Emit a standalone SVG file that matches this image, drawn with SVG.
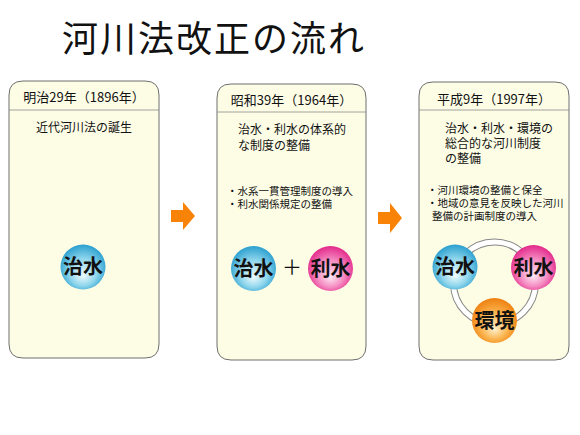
<svg xmlns="http://www.w3.org/2000/svg" width="580" height="435" viewBox="0 0 580 435">
  <defs>
    <radialGradient id="gBlue" cx="50%" cy="55%" r="55%" fx="50%" fy="70%">
      <stop offset="0" stop-color="#eefafd"/>
      <stop offset="0.55" stop-color="#8fd6ec"/>
      <stop offset="1" stop-color="#2a9fcf"/>
    </radialGradient>
    <radialGradient id="gPink" cx="50%" cy="55%" r="55%" fx="50%" fy="70%">
      <stop offset="0" stop-color="#fde6f2"/>
      <stop offset="0.55" stop-color="#f58cc2"/>
      <stop offset="1" stop-color="#e3288a"/>
    </radialGradient>
    <radialGradient id="gOrange" cx="50%" cy="55%" r="55%" fx="50%" fy="70%">
      <stop offset="0" stop-color="#fff0cc"/>
      <stop offset="0.55" stop-color="#fbb44e"/>
      <stop offset="1" stop-color="#ee8010"/>
    </radialGradient>
  </defs>
  <style>
    text { font-family: "Noto Sans CJK JP", "Noto Sans", sans-serif; fill: #111; }
    .panel { fill: #fdfde6; stroke: #6e6e6e; stroke-width: 1; }
    .sep { stroke: #8a8a8a; stroke-width: 0.8; }
    .head { font-size: 13px; text-anchor: middle; }
    .body { font-size: 12px; }
    .bul { font-size: 10.5px; }
    .lbl { font-size: 20px; text-anchor: middle; font-weight: bold; }
    .arrow { fill: #f98307; }
  </style>
  <rect width="580" height="435" fill="#ffffff"/>

  <text id="title" x="62" y="52" font-size="36" letter-spacing="2">河川法改正の流れ</text>

  <g id="panel1">
    <path class="panel" d="M9,95 Q9,81 23,81 L145,81 Q159,81 159,95 L159,344 Q159,358 145,358 L23,358 Q9,358 9,344 Z"/>
    <line class="sep" x1="9" y1="110" x2="159" y2="110"/>
    <text class="head" x="84" y="102">明治29年（1896年）</text>
    <text class="body" x="84" y="132" text-anchor="middle">近代河川法の誕生</text>
    <g id="p1-chisui">
      <circle cx="83" cy="267" r="22.5" fill="url(#gBlue)"/>
      <text class="lbl" x="83" y="274">治水</text>
    </g>
  </g>

  <g id="panel2">
    <path class="panel" d="M217,98 Q217,84 231,84 L352,84 Q366,84 366,98 L366,346 Q366,360 352,360 L231,360 Q217,360 217,346 Z"/>
    <line class="sep" x1="217" y1="112" x2="366" y2="112"/>
    <text class="head" x="291.5" y="105">昭和39年（1964年）</text>
    <text class="body" x="238" y="134">治水・利水の体系的<tspan x="238" y="150">な制度の整備</tspan></text>
    <text class="bul" x="227" y="195">・水系一貫管理制度の導入<tspan x="227" y="208">・利水関係規定の整備</tspan></text>
    <g id="p2-chisui">
      <circle cx="253.5" cy="268.5" r="22.5" fill="url(#gBlue)"/>
      <text class="lbl" x="253.5" y="275.5">治水</text>
    </g>
    <text x="292" y="275" font-size="20" text-anchor="middle">＋</text>
    <g id="p2-risui">
      <circle cx="330.5" cy="268.5" r="22.5" fill="url(#gPink)"/>
      <text class="lbl" x="330.5" y="275.5">利水</text>
    </g>
  </g>

  <g id="panel3">
    <path class="panel" d="M419,96 Q419,82 433,82 L555,82 Q569,82 569,96 L569,346 Q569,360 555,360 L433,360 Q419,360 419,346 Z"/>
    <line class="sep" x1="419" y1="110" x2="569" y2="110"/>
    <text class="head" x="494" y="104">平成9年（1997年）</text>
    <text class="body" x="445" y="133">治水・利水・環境の<tspan x="445" y="148">総合的な河川制度</tspan><tspan x="445" y="163">の整備</tspan></text>
    <text class="bul" x="427" y="194">・河川環境の整備と保全<tspan x="427" y="207">・地域の意見を反映した河川</tspan><tspan x="432" y="220">整備の計画制度の導入</tspan></text>
    <g id="ring">
      <circle cx="494.5" cy="283" r="41" fill="none" stroke="#888" stroke-width="7"/>
      <circle cx="494.5" cy="283" r="41" fill="none" stroke="#ffffff" stroke-width="5"/>
    </g>
    <g id="p3-chisui">
      <circle cx="455" cy="267" r="22.5" fill="url(#gBlue)"/>
      <text class="lbl" x="455" y="274">治水</text>
    </g>
    <g id="p3-risui">
      <circle cx="533.5" cy="267.5" r="22.5" fill="url(#gPink)"/>
      <text class="lbl" x="533.5" y="274.5">利水</text>
    </g>
    <g id="p3-kankyo">
      <circle cx="494.5" cy="320.5" r="22.5" fill="url(#gOrange)"/>
      <text class="lbl" x="494.5" y="327.5">環境</text>
    </g>
  </g>

  <g id="connectors">
    <polygon class="arrow" points="171,210 183,210 183,202 195,216 183,230 183,222 171,222"/>
    <polygon class="arrow" points="378,212 390,212 390,203 402,218 390,233 390,224 378,224"/>
  </g>
</svg>
